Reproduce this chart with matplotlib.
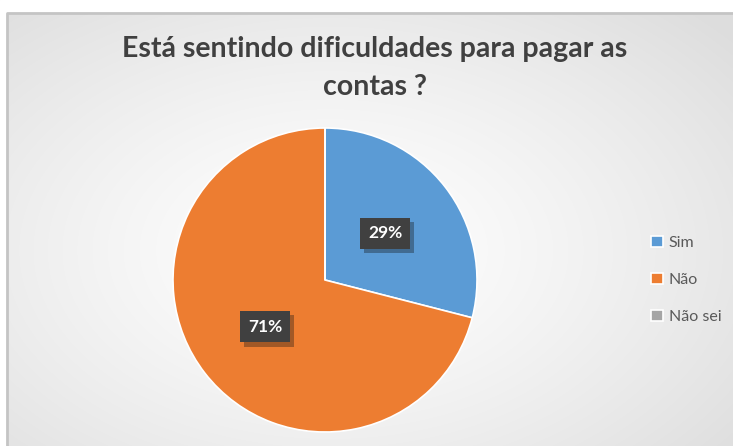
import numpy as np
import matplotlib.pyplot as plt
import matplotlib.patheffects as pe
from matplotlib.patches import Rectangle

categories = ["Sim", "Não", "Não sei"]
values = [29, 71, 0]
colors = ["#5B9BD5", "#ED7D31", "#A5A5A5"]
title = "Está sentindo dificuldades para pagar as\ncontas ?"

W, H = 733, 446
fig = plt.figure(figsize=(W / 100, H / 100), dpi=100)

# background: radial gradient inside a gray frame
bg = fig.add_axes([0, 0, 1, 1])
bg.set_xlim(0, W)
bg.set_ylim(H, 0)
bg.axis("off")
yy, xx = np.mgrid[0:H, 0:W]
r = np.sqrt(((xx - 330) / 520.0) ** 2 + ((yy - 250) / 330.0) ** 2)
shade = 1.0 - 0.13 * np.clip(r, 0, 1) ** 1.3
img = np.dstack([shade, shade, shade])
bg.imshow(img, extent=(0, W, H, 0), interpolation="bilinear")
bg.add_patch(Rectangle((0, 0), W, 13, color="white", zorder=2))
bg.add_patch(Rectangle((0, 0), 7, H, color="white", zorder=2))
bg.plot([7, 7, W], [H, 13, 13], color="#c4c4c4", lw=2, zorder=3)

fig.text(375 / W, 1 - 68 / H, title, ha="center", va="center",
         fontsize=20.5, fontweight="bold", color="#404040",
         family="Lato", linespacing=1.6)

cx, cy, rad = 325, 280, 152
ax = fig.add_axes([(cx - rad) / W, (H - cy - rad) / H, 2 * rad / W, 2 * rad / H])
wedges, texts, autotexts = ax.pie(
    values, colors=colors, startangle=90, counterclock=False,
    autopct=lambda p: f"{p:.0f}%" if p > 0 else "", pctdistance=0.5,
    wedgeprops=dict(edgecolor="white", linewidth=1.2),
    textprops=dict(color="white", fontsize=12.5, fontweight="bold", family="Lato"))
ax.set_xlim(-1, 1)
ax.set_ylim(-1, 1)
ax.set_aspect("auto")
for t in autotexts:
    if t.get_text():
        t.set_bbox(dict(boxstyle="square,pad=0.45", facecolor="#404040", edgecolor="none"))
        t.get_bbox_patch().set_path_effects(
            [pe.SimplePatchShadow(offset=(3, -3), alpha=0.35), pe.Normal()])

leg = fig.legend(wedges, categories, loc="center left",
                 bbox_to_anchor=(637 / W, 1 - 280 / H), frameon=False,
                 prop=dict(family="Lato", size=11.5), labelcolor="#595959",
                 handlelength=0.7, handleheight=0.7, handletextpad=0.4,
                 labelspacing=1.45)

fig.savefig("out.png", dpi=100)
